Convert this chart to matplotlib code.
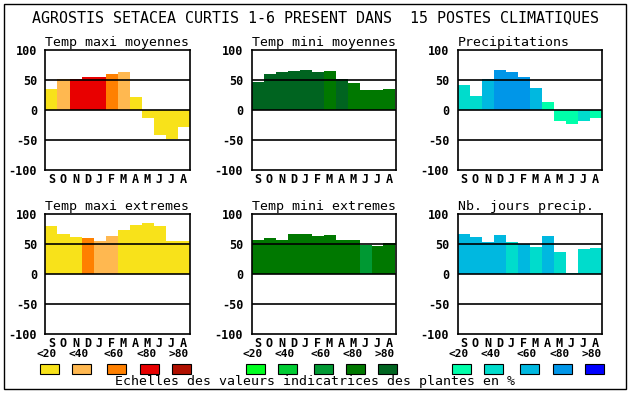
import matplotlib.pyplot as plt
from matplotlib.patches import Rectangle

W, H = 630, 394

months = ['S', 'O', 'N', 'D', 'J', 'F', 'M', 'A', 'M', 'J', 'J', 'A']
scale_labels = ['<20', '<40', '<60', '<80', '>80']

warm = ['#f8e21a', '#ffb850', '#ff8000', '#e80000', '#b01000']
greens = ['#00ff20', '#00cc33', '#009933', '#007800', '#006420']
blues = ['#00ffaa', '#00dccc', '#00b8e0', '#0096e8', '#0000ff']

tmax_moy = [35, 52, 52, 55, 55, 60, 64, 22, -14, -42, -48, -28]
tmax_moy_cls = [0, 1, 3, 3, 3, 2, 1, 0, 0, 0, 0, 0]
tmin_moy = [47, 60, 64, 65, 67, 64, 65, 52, 45, 34, 34, 35]
tmin_moy_cls = [4, 4, 4, 4, 4, 4, 3, 4, 3, 3, 3, 3]
precip = [42, 24, 52, 67, 64, 55, 37, 14, -18, -23, -18, -14]
precip_cls = [1, 1, 2, 3, 3, 3, 2, 0, 0, 0, 1, 0]
tmax_ext = [80, 67, 62, 60, 55, 64, 74, 82, 85, 80, 55, 55]
tmax_ext_cls = [0, 0, 0, 2, 1, 1, 0, 0, 0, 0, 0, 0]
tmin_ext = [57, 60, 57, 67, 67, 64, 65, 57, 57, 49, 47, 52]
tmin_ext_cls = [3, 3, 3, 3, 3, 3, 3, 3, 3, 2, 3, 3]
jours = [67, 62, 54, 65, 54, 50, 45, 64, 37, 2, 42, 43]
jours_cls = [2, 2, 2, 2, 1, 2, 1, 2, 1, 1, 1, 1]

panels = [
    ('Temp maxi moyennes', tmax_moy, tmax_moy_cls, warm, 45.5, 50),
    ('Temp mini moyennes', tmin_moy, tmin_moy_cls, greens, 251.5, 50),
    ('Precipitations', precip, precip_cls, blues, 457.5, 50),
    ('Temp maxi extremes', tmax_ext, tmax_ext_cls, warm, 45.5, 214),
    ('Temp mini extremes', tmin_ext, tmin_ext_cls, greens, 251.5, 214),
    ('Nb. jours precip.', jours, jours_cls, blues, 457.5, 214),
]

mono = 'DejaVu Sans Mono'
fig = plt.figure(figsize=(W / 100, H / 100), dpi=100)


def px(x, y):
    return x / W, 1 - y / H


for title, vals, cls, pal, x0, y0 in panels:
    ax = fig.add_axes([x0 / W, 1 - (y0 + 120) / H, 144 / W, 120 / H])
    ax.bar(range(12), vals, width=1.0, color=[pal[c] for c in cls], zorder=2)
    for g in (50, 0, -50):
        ax.axhline(g, color='black', lw=1.2, zorder=3)
    ax.set_xlim(-0.5, 11.5)
    ax.set_ylim(-100, 100)
    ax.set_yticks([100, 50, 0, -50, -100])
    ax.set_yticklabels(['100', '50', '0', '-50', '-100'], family=mono,
                       fontweight='bold', fontsize=8.5)
    ax.set_xticks(range(12))
    ax.set_xticklabels(months, family=mono, fontweight='bold', fontsize=8.5)
    ax.tick_params(length=0)
    ax.tick_params(axis='y', pad=6)
    ax.tick_params(axis='x', pad=2)
    for s in ax.spines.values():
        s.set_linewidth(1.2)
    ax.set_title(title, loc='left', family=mono, fontsize=9.5, pad=3)

fig.text(*px(315, 18), 'AGROSTIS SETACEA CURTIS 1-6 PRESENT DANS  15 POSTES CLIMATIQUES',
         family=mono, fontsize=10.8, ha='center', va='center')

groups = [(warm, [40, 72, 107, 140, 172]),
          (greens, [246, 278, 314, 346, 378]),
          (blues, [452, 484, 520, 553, 585])]
for pal, xs in groups:
    for i in range(5):
        fig.patches.append(Rectangle(px(xs[i], 374), 19 / W, 10 / H,
                                     transform=fig.transFigure, facecolor=pal[i],
                                     edgecolor='black', lw=0.8))
        fig.text(*px(xs[i] + 7, 354), scale_labels[i], family=mono,
                 fontweight='bold', fontsize=8, ha='center', va='center')

fig.text(*px(315, 382), 'Echelles des valeurs indicatrices des plantes en %',
         family=mono, fontsize=9.5, ha='center', va='center')

fig.patches.append(Rectangle(px(4, 389), 622 / W, 385 / H, transform=fig.transFigure,
                             facecolor='none', edgecolor='black', lw=1.0))

fig.savefig('out.png', dpi=100)
